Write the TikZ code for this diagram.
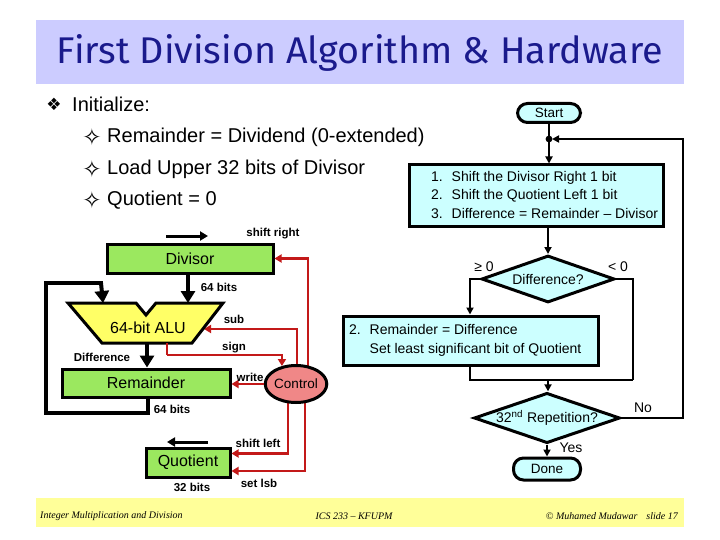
\documentclass[tikz,border=0pt]{standalone}
\usepackage{fontspec}
\setmainfont{Liberation Sans}
\newfontfamily\symfont{DejaVu Sans}
\newfontfamily\titlefont{Fira Sans}
\newfontfamily\footfont{Liberation Serif}
\usetikzlibrary{shapes.geometric,arrows.meta}
\definecolor{band}{RGB}{204,204,255}
\definecolor{titleblue}{RGB}{26,26,140}
\definecolor{hwgreen}{RGB}{155,232,95}
\definecolor{aluyellow}{RGB}{255,255,102}
\definecolor{ctrlred}{RGB}{240,135,135}
\definecolor{wirered}{RGB}{195,25,25}
\definecolor{flowcyan}{RGB}{204,255,255}
\definecolor{footyellow}{RGB}{255,255,153}
\tikzset{
  hwbox/.style={draw=black, line width=3pt, fill=hwgreen, inner sep=0pt,
    font=\fontsize{16}{18}\selectfont},
  hwlabel/.style={font=\fontsize{11.5}{13}\selectfont\bfseries, inner sep=0pt},
  bus/.style={line width=4pt, -{Triangle[length=12pt,width=14pt]}},
  busline/.style={line width=4pt},
  wire/.style={draw=wirered, line width=2.4pt, -{Triangle[length=7pt,width=8pt]}},
  flowbox/.style={draw=black, line width=3pt, fill=flowcyan, inner sep=0pt,
    font=\fontsize{14}{18.5}\selectfont},
  flowdia/.style={diamond, draw=black, line width=3pt, fill=flowcyan, inner sep=0pt,
    aspect=2.9, font=\fontsize{14}{16}\selectfont},
  flowpill/.style={draw=black, line width=3pt, fill=flowcyan, inner sep=0pt,
    rounded corners=10pt, font=\fontsize{13.5}{16}\selectfont},
  flowline/.style={line width=2.8pt},
  flowarrow/.style={line width=2.8pt, -{Triangle[length=7pt,width=7pt]}},
  flowlabel/.style={font=\fontsize{14}{16}\selectfont, inner sep=0pt},
  bodytext/.style={font=\fontsize{20}{24}\selectfont, inner sep=0pt, anchor=west},
  bulletsym/.style={font=\symfont\fontsize{17}{20}\selectfont, inner sep=0pt},
  subbullet/.style={font=\symfont\fontsize{23}{26}\selectfont, inner sep=0pt},
  foot/.style={font=\fontsize{10}{12}\selectfont\footfont\itshape, inner sep=0pt},
}
\begin{document}
\begin{tikzpicture}[x=1pt, y=-1pt]
\useasboundingbox (0,0) rectangle (720,540);
\fill[white] (0,0) rectangle (720,540);

% title band
\fill[band] (36,20) rectangle (684,84);
\node[inner sep=0pt, text=titleblue] (title) at (360,53)
  {\resizebox{606pt}{29pt}{\titlefont First Division Algorithm \& Hardware}};

% bullets
\node[bulletsym] (b0s) at (54,104) {❖};
\node[bodytext] (b0) at (72,104) {Initialize:};
\node[subbullet] (b1s) at (92,137) {✧};
\node[bodytext] (b1) at (107,137) {Remainder = Dividend (0-extended)};
\node[subbullet] (b2s) at (92,169) {✧};
\node[bodytext] (b2) at (107,169) {Load Upper 32 bits of Divisor};
\node[subbullet] (b3s) at (92,200) {✧};
\node[bodytext] (b3) at (107,200) {Quotient = 0};

% ---------------- hardware ----------------
\coordinate (ctrlc) at (296,384);
\coordinate (aluL) at (103,303);
\coordinate (aluR) at (188,303);
\coordinate (aluOut) at (147,343);
\coordinate (aluSub) at (204,329);
\coordinate (aluSign) at (167,343);
\node[hwbox, minimum width=166pt, minimum height=29pt] (div) at (190,258.5) {Divisor};
\node[hwbox, minimum width=168pt, minimum height=28pt] (rem) at (146,383) {Remainder};
\node[hwbox, minimum width=84pt, minimum height=29pt] (quo) at (188,462.5) {Quotient};

% red control wires (start inside the Control ellipse, which is drawn over them)
\draw[wire] ([xshift=12pt]ctrlc) |- (div.east);
\draw[wire] ([xshift=1pt]ctrlc) |- (aluSub);
\draw[wire] ([xshift=-8pt]ctrlc) |- ([yshift=9pt]quo.east);
\draw[wire] ([xshift=9pt]ctrlc) |- ([yshift=-8.5pt]quo.east);

\draw[line width=3pt, fill=aluyellow, line join=miter]
  (68,303) -- (136,303) -- (146,315) -- (156,303) -- (223,303) -- (192,343) -- (102,343) -- cycle;
\node[inner sep=0pt, font=\fontsize{16}{18}\selectfont] (alu) at (148,328) {64-bit ALU};
\node[ellipse, draw=black, line width=3pt, fill=ctrlred, minimum width=60pt,
  minimum height=37pt, inner sep=0pt, font=\fontsize{13.5}{16}\selectfont] (ctrl) at (ctrlc) {Control};

% black buses
\draw[bus] (div.south -| aluR) -- (aluR);
\draw[bus] (aluOut) -- (aluOut |- rem.north);
\coordinate (fb1) at (148,413);
\coordinate (fb2) at (46,413);
\coordinate (fb3) at (46,283);
\draw[busline, line join=miter] (rem.south -| fb1) -- (fb1) -- (fb2) -- (fb3) -- (fb3 -| aluL);
\draw[bus] ([xshift=-2pt]fb3 -| aluL) -- (aluL);
\coordinate (sr1) at (166,236);
\coordinate (sr2) at (208,236);
\draw[line width=3pt, -{Triangle[length=8pt,width=9pt]}] (sr1) -- (sr2);
\coordinate (sl1) at (208,442);
\coordinate (sl2) at (167,442);
\draw[line width=3pt, -{Triangle[length=8pt,width=9pt]}] (sl1) -- (sl2);

\coordinate (sg1) at (167,355);
\draw[wire, -] (aluSign) -- (sg1);
\draw[wire] (sg1) -| (ctrl.128);
\draw[wire] (ctrl.west) -- (ctrl.west -| rem.east);

% hardware labels
\node[hwlabel] (lsr) at (273,234) {shift right};
\node[hwlabel] (l64a) at (219,287) {64 bits};
\node[hwlabel] (lsub) at (234,319) {sub};
\node[hwlabel] (lsign) at (234,348) {sign};
\node[hwlabel] (lwrite) at (250,377) {write};
\node[hwlabel] (ldiff) at (102,357) {Difference};
\node[hwlabel] (l64b) at (172,409) {64 bits};
\node[hwlabel] (lsl) at (258,443) {shift left};
\node[hwlabel] (llsb) at (259,483) {set lsb};
\node[hwlabel] (l32) at (192,487) {32 bits};

% ---------------- flowchart ----------------
\node[flowpill, minimum width=63pt, minimum height=19pt] (start) at (549,113) {Start};
\coordinate (jn) at (549,139);
\node[flowbox, minimum width=254pt, minimum height=62pt] (box1) at (536,196)
  {\makebox[254pt][l]{\hspace{22pt}\begin{tabular}{@{}l@{\hspace{9pt}}l@{}}1.&Shift the Divisor Right 1 bit\\2.&Shift the Quotient Left 1 bit\\3.&Difference = Remainder – Divisor\end{tabular}}};
\node[flowdia, minimum width=133pt, minimum height=47pt] (d1) at (548,279) {Difference?};
\node[flowbox, minimum width=255pt, minimum height=49pt] (box2) at (470.5,340.5)
  {\makebox[255pt][l]{\hspace{6pt}\begin{tabular}{@{}l@{\hspace{9pt}}l@{}}2.&Remainder = Difference\\&Set least significant bit of Quotient\end{tabular}}};
\node[flowdia, minimum width=146pt, minimum height=46pt] (d2) at (547,418) {32\textsuperscript{nd} Repetition?};
\node[flowpill, minimum width=67pt, minimum height=22pt] (done) at (547,469) {Done};

\draw[flowline] (start.south) -- (jn);
\fill (jn) circle (3.4pt);
\draw[flowarrow] (jn) -- (box1.north -| jn);
\draw[flowarrow] (box1.south -| d1.north) -- (d1.north);
\coordinate (lb) at (470,279);
\draw[flowarrow, line join=miter] (d1.west) -- (lb) -- (lb |- box2.north);
\coordinate (rb) at (633,279);
\coordinate (mg) at (548,380);
\draw[flowline, line join=miter] (d1.east) -- (rb) -- (rb |- mg);
\draw[flowline, line join=miter] (box2.south -| lb) |- (rb |- mg);
\draw[flowarrow] (mg) -- (mg |- d2.north);
\coordinate (nr) at (683,418);
\draw[flowarrow, line join=miter] (d2.east) -- (nr) -- (nr |- jn) -- ([xshift=3pt]jn);
\draw[flowarrow] (d2.south -| done.north) -- (done.north);

\node[flowlabel] (lge) at (484,267) {≥ 0};
\node[flowlabel] (llt) at (618,267) {< 0};
\node[flowlabel] (lno) at (643,408) {No};
\node[flowlabel] (lyes) at (571,448) {Yes};

% footer
\fill[footyellow] (36,498) rectangle (684,527);
\node[foot, anchor=west] (f1) at (40,516) {Integer Multiplication and Division};
\node[foot] (f2) at (354,516) {ICS 233 – KFUPM};
\node[foot, anchor=east] (f3) at (678,516) {© Muhamed Mudawar\hspace{9pt}slide 17};
\end{tikzpicture}
\end{document}
